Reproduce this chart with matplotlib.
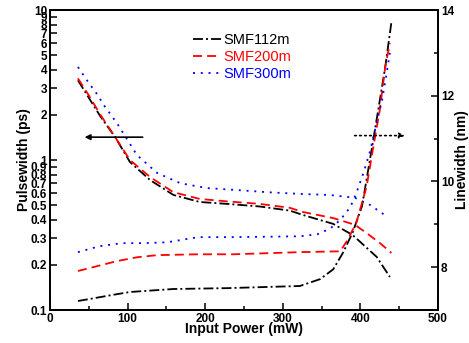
import matplotlib
matplotlib.use('Agg')
import matplotlib.pyplot as plt
from matplotlib.ticker import FixedLocator, FixedFormatter, MultipleLocator

plt.rcParams['font.family'] = ['Liberation Sans', 'DejaVu Sans']

# Pulsewidth (left axis, ps)
p_pw112 = [36, 50, 65, 84, 103, 129, 159, 193, 228, 270, 309, 326, 365, 390, 421, 438]
pw112 = [3.4, 2.6, 1.95, 1.42, 0.97, 0.735, 0.585, 0.525, 0.51, 0.49, 0.46, 0.43, 0.375, 0.316, 0.226, 0.166]
p_pw200 = [36, 50, 65, 84, 103, 129, 159, 193, 228, 270, 309, 326, 365, 393, 410, 425, 440]
pw200 = [3.5, 2.7, 2.0, 1.42, 1.0, 0.77, 0.61, 0.55, 0.53, 0.51, 0.48, 0.45, 0.41, 0.37, 0.32, 0.28, 0.24]
p_pw300 = [36, 43, 50, 58, 71, 86, 112, 138, 168, 202, 242, 280, 326, 360, 393, 413, 434]
pw300 = [4.17, 3.69, 3.26, 2.88, 2.26, 1.77, 1.08, 0.82, 0.70, 0.65, 0.63, 0.61, 0.593, 0.585, 0.56, 0.50, 0.42]

# Linewidth (right axis, nm)
p_lw112 = [36, 52, 80, 103, 159, 228, 322, 348, 365, 378, 390, 402, 408, 415, 423, 432, 440]
lw112 = [7.21, 7.26, 7.35, 7.42, 7.49, 7.51, 7.56, 7.72, 7.95, 8.35, 8.81, 9.42, 10.05, 10.8, 11.67, 12.67, 13.72]
p_lw200 = [36, 60, 86, 112, 138, 190, 236, 322, 374, 384, 395, 408, 416, 425, 432, 438]
lw200 = [7.91, 8.02, 8.14, 8.23, 8.28, 8.30, 8.30, 8.35, 8.37, 8.65, 9.05, 9.88, 10.74, 11.67, 12.67, 13.23]
p_lw300 = [36, 64, 93, 120, 151, 191, 236, 322, 345, 361, 374, 387, 395, 404, 413, 421, 428, 433, 438]
lw300 = [8.35, 8.49, 8.56, 8.56, 8.58, 8.7, 8.7, 8.72, 8.77, 8.9, 9.1, 9.4, 9.74, 10.2, 10.74, 11.37, 11.9, 12.44, 13.0]

labels = ['SMF112m', 'SMF200m', 'SMF300m']
colors = ['black', 'red', 'blue']
dashes = [(5.5, 1.7, 1.1, 1.7), (5.0, 2.8), (1.1, 3.2)]

fig = plt.figure(figsize=(4.69, 3.43), dpi=100)
ax = fig.add_axes([0.1066, 0.0962, 0.8273, 0.8746])
ax2 = ax.twinx()

lw = 1.3
pw_data = [(p_pw112, pw112), (p_pw200, pw200), (p_pw300, pw300)]
lw_data = [(p_lw112, lw112), (p_lw200, lw200), (p_lw300, lw300)]
handles = []
for (px, py), lab, c, d in zip(pw_data, labels, colors, dashes):
    h, = ax.plot(px, py, color=c, lw=lw, dashes=d, label=lab)
    handles.append(h)
for (px, py), c, d in zip(lw_data, colors, dashes):
    ax2.plot(px, py, color=c, lw=lw, dashes=d)

# left log axis
ax.set_yscale('log')
ax.set_ylim(0.1, 10)
yt = [0.1, 0.2, 0.3, 0.4, 0.5, 0.6, 0.7, 0.8, 0.9, 1, 2, 3, 4, 5, 6, 7, 8, 9, 10]
ytl = ['0.1', '0.2', '0.3', '0.4', '0.5', '0.6', '0.7', '0.8', '0.9',
       '1', '2', '3', '4', '5', '6', '7', '8', '9', '10']
ax.yaxis.set_major_locator(FixedLocator(yt))
ax.yaxis.set_major_formatter(FixedFormatter(ytl))
ax.yaxis.set_minor_locator(FixedLocator([]))

ax.set_xlim(0, 500)
ax.xaxis.set_major_locator(MultipleLocator(100))
ax.xaxis.set_minor_locator(MultipleLocator(50))

ax2.set_ylim(7, 14)
ax2.yaxis.set_major_locator(FixedLocator([8, 10, 12, 14]))
ax2.yaxis.set_minor_locator(FixedLocator([9, 11, 13]))

for a in (ax, ax2):
    a.tick_params(which='major', direction='in', length=5, width=1.1, labelsize=8.5, pad=2)
    a.tick_params(which='minor', direction='in', length=3, width=1.1)
    for s in a.spines.values():
        s.set_linewidth(1.3)
    for t in a.get_xticklabels() + a.get_yticklabels():
        t.set_fontweight('bold')
ax.tick_params(axis='x', top=False, which='both')

ax.set_xlabel('Input Power (mW)', fontsize=10, fontweight='bold', labelpad=-2)
ax.set_ylabel('Pulsewidth (ps)', fontsize=10, fontweight='bold', labelpad=0)
ax2.set_ylabel('Linewidth (nm)', fontsize=10, fontweight='bold', labelpad=1)

# arrows indicating axes
ax.annotate('', xy=(41, 1.42), xytext=(123, 1.42),
            arrowprops=dict(arrowstyle='-|>', color='black', lw=1.2,
                            mutation_scale=8))
ax2.annotate('', xy=(461, 11.07), xytext=(389, 11.07),
             arrowprops=dict(arrowstyle='-|>', color='black', lw=1.2,
                             linestyle=(0, (1, 2)), mutation_scale=8))

ax2.legend(handles=handles, loc='upper left', bbox_to_anchor=(0.353, 0.943),
           frameon=False, fontsize=10.5, handlelength=1.9, handletextpad=0.2,
           labelspacing=0.22, borderaxespad=0, labelcolor='linecolor')

fig.savefig('out.png', dpi=100)
